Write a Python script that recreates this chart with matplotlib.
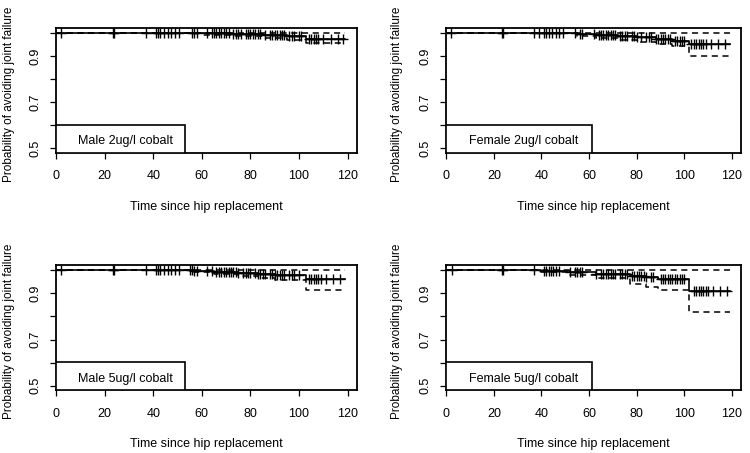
import numpy as np
import matplotlib
matplotlib.use("Agg")
import matplotlib.pyplot as plt
from matplotlib.patches import Rectangle

plt.rcParams['font.family'] = ['Liberation Sans', 'DejaVu Sans']

# Male 2ug/l cobalt
m2_times = [0, 60, 72, 85, 95, 103]
m2_surv = [1.0, 0.997, 0.994, 0.99, 0.986, 0.975]
m2_lower = [1.0, 0.99, 0.985, 0.978, 0.97, 0.955]
m2_upper = [1.0, 1.0, 1.0, 1.0, 1.0, 1.0]
m2_censor = [2, 23.5, 24, 37, 41, 42, 43, 44.5, 46, 47.5, 49, 50.5, 56, 57, 58,
             62, 64, 65, 66, 67, 68, 69, 70, 71, 73, 74, 75, 76, 78, 79, 80, 81,
             82, 83, 84, 86, 88, 89, 90, 91, 92, 93, 94, 96, 97, 98, 100, 101,
             104, 105, 106, 107, 108, 110, 113, 116, 118]

# Female 2ug/l cobalt
f2_times = [0, 55, 63, 72, 80, 88, 95, 102]
f2_surv = [1.0, 0.996, 0.99, 0.985, 0.98, 0.973, 0.966, 0.95]
f2_lower = [1.0, 0.985, 0.978, 0.97, 0.962, 0.953, 0.942, 0.90]
f2_upper = [1.0, 1.0, 1.0, 1.0, 1.0, 1.0, 1.0, 1.0]
f2_censor = [2, 23.5, 24, 37, 39, 41, 42, 43, 44.5, 46, 47.5, 49, 54, 56, 57,
             62, 64, 65, 66, 67, 68, 69, 70, 71, 73, 74, 75, 76, 78, 79, 80, 82,
             84, 85, 86, 88, 89, 90, 91, 92, 93, 94, 96, 97, 98, 99, 100,
             103, 104, 105, 106, 107, 108, 109, 111, 114, 117]

# Male 5ug/l cobalt
m5_times = [0, 57, 65, 75, 83, 90, 103]
m5_surv = [1.0, 0.997, 0.993, 0.988, 0.983, 0.978, 0.96]
m5_lower = [1.0, 0.99, 0.983, 0.975, 0.966, 0.958, 0.915]
m5_upper = [1.0, 1.0, 1.0, 1.0, 1.0, 1.0, 1.0]
m5_censor = [2, 23.5, 24, 37, 41, 42, 43, 44.5, 46, 47.5, 49, 50.5, 55, 56, 57,
             58, 62, 64, 66, 67, 68, 69, 70, 71, 72, 73, 74, 75, 77, 78, 79, 80,
             82, 83, 84, 85, 86, 88, 89, 90, 91, 92, 93, 94, 96, 97, 98, 100,
             104, 105, 106, 107, 108, 109, 111, 114, 117]

# Female 5ug/l cobalt
f5_times = [0, 40, 52, 63, 77, 84, 89, 102]
f5_surv = [1.0, 0.997, 0.993, 0.985, 0.974, 0.968, 0.96, 0.91]
f5_lower = [1.0, 0.99, 0.98, 0.965, 0.94, 0.928, 0.916, 0.82]
f5_upper = [1.0, 1.0, 1.0, 1.0, 1.0, 1.0, 1.0, 1.0]
f5_censor = [2.5, 23.5, 24, 37, 41, 42, 43, 44, 45, 46, 47.5, 52, 54, 55, 56,
             57, 63, 65, 66, 67, 68, 69, 70, 71, 73, 74, 75, 76, 78, 79, 80, 81,
             82, 83, 84, 86, 87, 90, 91, 92, 93, 94, 95, 96, 97, 98, 99, 100,
             104, 105, 106, 107, 108, 109, 110, 112, 115, 118]

panel_labels = ["Male 2ug/l cobalt", "Female 2ug/l cobalt",
                "Male 5ug/l cobalt", "Female 5ug/l cobalt"]
end_time = 119

panels = [
    (m2_times, m2_surv, m2_lower, m2_upper, m2_censor),
    (f2_times, f2_surv, f2_lower, f2_upper, f2_censor),
    (m5_times, m5_surv, m5_lower, m5_upper, m5_censor),
    (f5_times, f5_surv, f5_lower, f5_upper, f5_censor),
]

# axes positions in figure fractions [left, bottom, width, height]
positions = [
    [0.0747, 0.662, 0.401, 0.276],
    [0.595, 0.662, 0.393, 0.276],
    [0.0747, 0.138, 0.401, 0.276],
    [0.595, 0.138, 0.393, 0.276],
]
legend_widths = [0.43, 0.495, 0.43, 0.495]
ylabel_x = [-0.135, -0.146, -0.135, -0.146]

fig = plt.figure(figsize=(7.5, 4.53), dpi=100)

for i, (times, surv, lower, upper, censor) in enumerate(panels):
    ax = fig.add_axes(positions[i])
    t = list(times) + [end_time]
    s = list(surv) + [surv[-1]]
    lo = list(lower) + [lower[-1]]
    up = list(upper) + [upper[-1]]
    ax.step(t, s, where='post', color='black', lw=1.2)
    ax.step(t, lo, where='post', color='black', lw=1.1, ls=(0, (4, 3)))
    ax.step(t, up, where='post', color='black', lw=1.1, ls=(0, (4, 3)))
    idx = np.searchsorted(times, censor, side='right') - 1
    cs = np.array(surv)[idx]
    ax.plot(censor, cs, ls='none', marker='+', color='black', ms=6.5, mew=1.0)

    ax.set_xlim(0, 123.8)
    ax.set_ylim(0.48, 1.02)
    ax.set_xticks([0, 20, 40, 60, 80, 100, 120])
    ax.set_yticks([0.5, 0.6, 0.7, 0.8, 0.9, 1.0])
    ax.set_yticklabels(["0.5", "", "0.7", "", "0.9", ""], rotation=90, va='center')
    ax.tick_params(direction='out', length=4.5, width=0.9, labelsize=9, colors='black')
    ax.tick_params(axis='x', pad=8)
    ax.tick_params(axis='y', pad=6)
    for sp in ax.spines.values():
        sp.set_linewidth(1.3)
    ax.set_xlabel("Time since hip replacement", fontsize=9, labelpad=13)
    ax.set_ylabel("Probability of avoiding joint failure", fontsize=8.5)
    ax.yaxis.set_label_coords(ylabel_x[i], 0.47)

    ax.add_patch(Rectangle((0, 0), legend_widths[i], 0.224, transform=ax.transAxes,
                           facecolor='white', edgecolor='black', lw=1.2, zorder=5))
    ax.text(legend_widths[i] / 2 + 0.015, 0.095, panel_labels[i], transform=ax.transAxes,
            ha='center', va='center', fontsize=9, zorder=6)

fig.savefig("out.png", dpi=100)
